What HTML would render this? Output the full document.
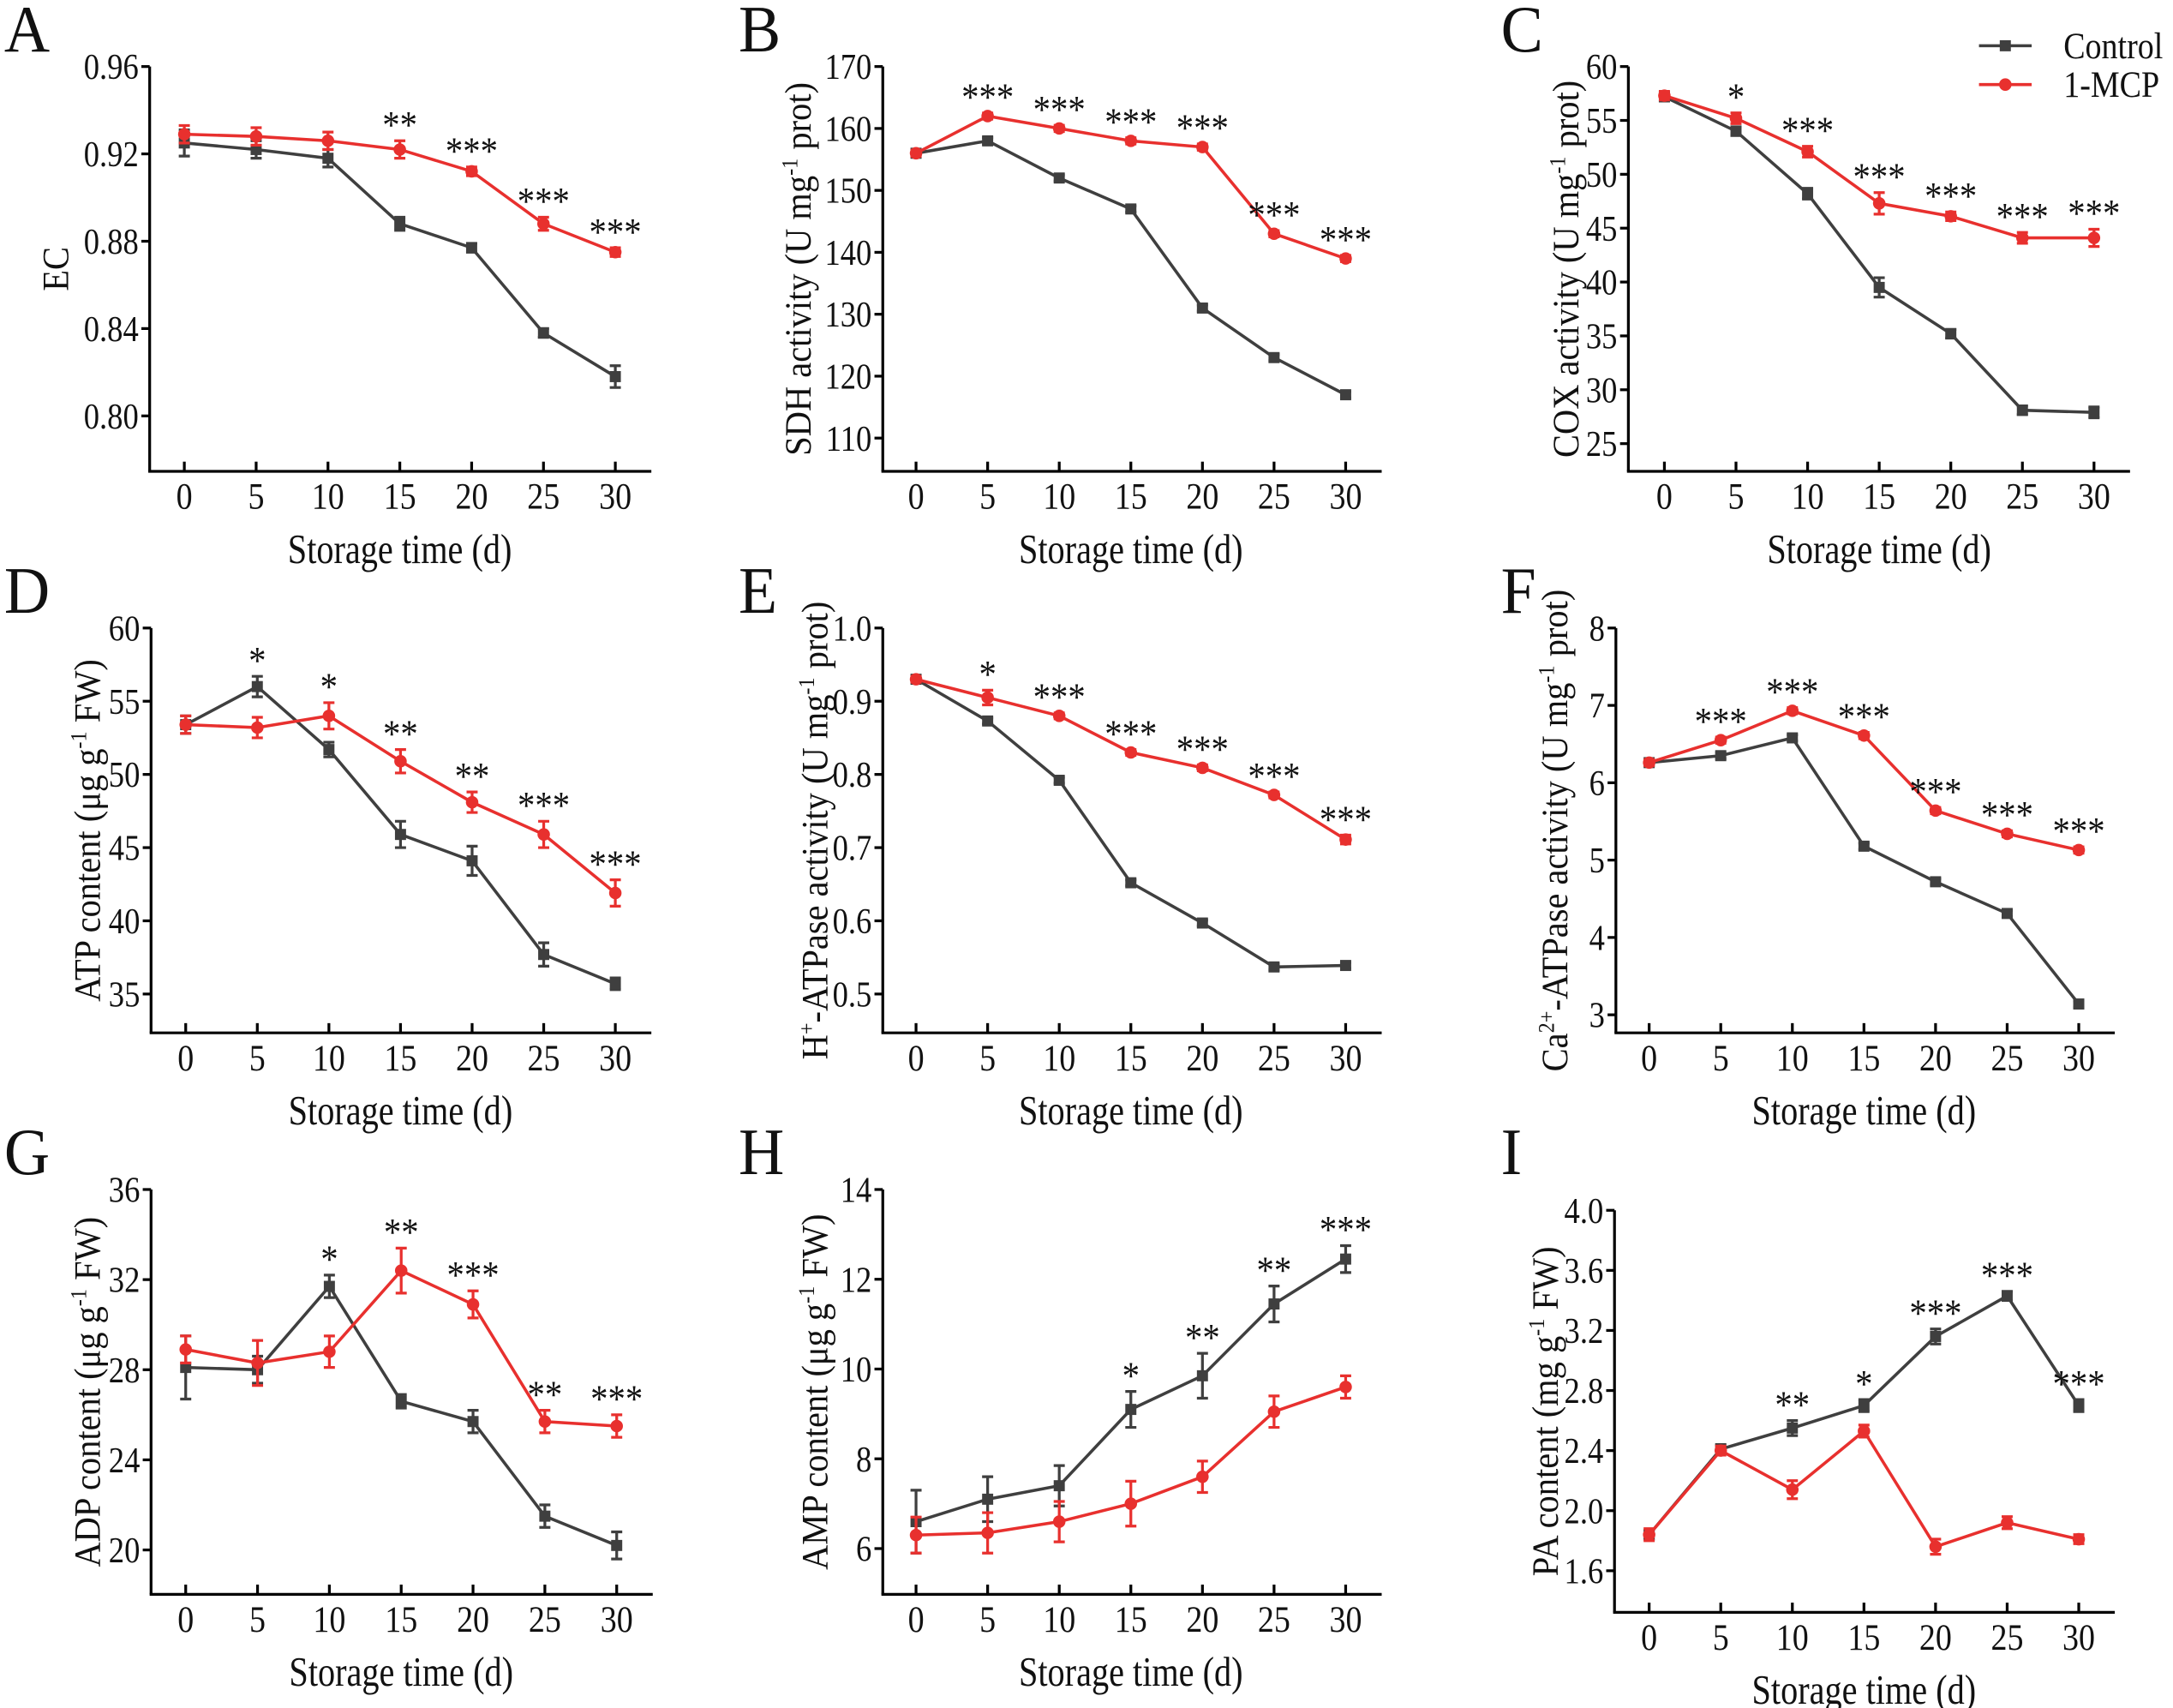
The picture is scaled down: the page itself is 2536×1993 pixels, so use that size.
<!DOCTYPE html>
<html><head><meta charset="utf-8"><style>
html,body{margin:0;padding:0;background:#fff}
svg{display:block}
text{font-family:"Liberation Serif",serif;fill:#111}
</style></head><body>
<svg id="fig" xmlns="http://www.w3.org/2000/svg" width="2536" height="1993" viewBox="0 0 1568 1232" preserveAspectRatio="none"></svg>
<script>
const days = [0,5,10,15,20,25,30];
const xTickLabels = ["0","5","10","15","20","25","30"];
const seriesNames = ["Control","1-MCP"];
// A EC
const ecCtrl=[.925,.922,.918,.888,.877,.838,.818], ecCtrlErr=[.006,.004,.004,.003,.002,.002,.005];
const ecMcp=[.929,.928,.926,.922,.912,.888,.875], ecMcpErr=[.004,.004,.004,.004,.002,.003,.002];
const ecStars=["","","","**","***","***","***"];
const ecTicks=[0.80,0.84,0.88,0.92,0.96];
// B SDH
const sdhCtrl=[156,158,152,147,131,123,117], sdhCtrlErr=[.5,.5,.5,.5,.5,.5,.5];
const sdhMcp=[156,162,160,158,157,143,139], sdhMcpErr=[.5,.5,.5,.5,.5,.5,.5];
const sdhStars=["","***","***","***","***","***","***"];
const sdhTicks=[110,120,130,140,150,160,170];
// C COX
const coxCtrl=[57.2,54,48.2,39.5,35.2,28.1,27.9], coxCtrlErr=[.4,.4,.5,.9,.4,.4,.5];
const coxMcp=[57.3,55.2,52.1,47.3,46.1,44.1,44.1], coxMcpErr=[.4,.5,.5,1,.4,.5,.8];
const coxStars=["","*","***","***","***","***","***"];
const coxTicks=[25,30,35,40,45,50,55,60];
// D ATP
const atpCtrl=[53.4,56,51.7,45.9,44.1,37.7,35.7], atpCtrlErr=[.6,.7,.5,.9,1,.8,.4];
const atpMcp=[53.4,53.2,54,50.9,48.1,45.9,41.9], atpMcpErr=[.6,.7,.9,.8,.7,.9,.9];
const atpStars=["","*","*","**","**","***","***"];
const atpTicks=[35,40,45,50,55,60];
// E H-ATPase
const hCtrl=[.93,.873,.792,.652,.597,.537,.539], hCtrlErr=[.004,.004,.004,.004,.004,.004,.004];
const hMcp=[.93,.905,.88,.83,.809,.772,.711], hMcpErr=[.004,.01,.004,.004,.004,.004,.006];
const hStars=["","*","***","***","***","***","***"];
const hTicks=[0.5,0.6,0.7,0.8,0.9,1.0];
// F Ca-ATPase
const caCtrl=[6.26,6.35,6.58,5.18,4.72,4.31,3.14], caCtrlErr=[.04,.04,.04,.04,.04,.04,.04];
const caMcp=[6.26,6.55,6.93,6.61,5.64,5.34,5.13], caMcpErr=[.04,.04,.04,.04,.04,.04,.04];
const caStars=["","***","***","***","***","***","***"];
const caTicks=[3,4,5,6,7,8];
// G ADP
const adpCtrl=[28.1,28,31.7,26.6,25.7,21.5,20.2], adpCtrlErr=[1.4,.6,.5,.3,.5,.5,.6];
const adpMcp=[28.9,28.3,28.8,32.4,30.9,25.7,25.5], adpMcpErr=[.6,1,.7,1,.6,.5,.5];
const adpStars=["","","*","**","***","**","***"];
const adpTicks=[20,24,28,32,36];
// H AMP
const ampCtrl=[6.6,7.1,7.4,9.1,9.85,11.45,12.45], ampCtrlErr=[.7,.5,.45,.4,.5,.4,.3];
const ampMcp=[6.3,6.35,6.6,7,7.6,9.05,9.6], ampMcpErr=[.4,.45,.45,.5,.35,.35,.25];
const ampStars=["","","","*","**","**","***"];
const ampTicks=[6,8,10,12,14];
// I PA
const paCtrl=[1.84,2.41,2.55,2.7,3.16,3.43,2.7], paCtrlErr=[.03,.03,.05,.04,.05,.03,.04];
const paMcp=[1.84,2.4,2.14,2.53,1.76,1.92,1.81], paMcpErr=[.04,.03,.06,.04,.05,.04,.03];
const paStars=["","","**","*","***","***","***"];
const paTicks=[1.6,2.0,2.4,2.8,3.2,3.6,4.0];

const svg=document.getElementById('fig');
const NS="http://www.w3.org/2000/svg";
function mk(tag,attrs,parent){const e=document.createElementNS(NS,tag);for(const k in attrs)e.setAttribute(k,attrs[k]);(parent||svg).appendChild(e);return e;}
function txt(parent,x,y,size,anchor,sx,str,rot){
  const t=mk('text',{x:0,y:0,'font-size':size,'text-anchor':anchor,transform:`translate(${x} ${y}) scale(${sx} 1)`+(rot?` rotate(${rot})`:'')},parent);
  if(str!==null)t.textContent=str; return t;}

const panels=[
 {id:"a",L:"A",lx:3,ly:37,ax:108,x0:133,x30:444,xe:470,yTop:48,yBot:340,tTop:0.96,tTopY:48,tLow:0.80,tLowY:300,ticks:ecTicks,dec:2,c:ecCtrl,ce:ecCtrlErr,m:ecMcp,me:ecMcpErr,s:ecStars,title:[["EC"]],tx:49},
 {id:"b",L:"B",lx:533,ly:37,ax:637,x0:661,x30:971,xe:997,yTop:48,yBot:340,tTop:170,tTopY:48,tLow:110,tLowY:316,ticks:sdhTicks,dec:0,c:sdhCtrl,ce:sdhCtrlErr,m:sdhMcp,me:sdhMcpErr,s:sdhStars,title:[["SDH activity (U mg"],["-1","sup"],[" prot)"]],tx:585},
 {id:"c",L:"C",lx:1083,ly:37,ax:1175,x0:1201,x30:1511,xe:1537,yTop:48,yBot:340,tTop:60,tTopY:48,tLow:25,tLowY:320,ticks:coxTicks,dec:0,c:coxCtrl,ce:coxCtrlErr,m:coxMcp,me:coxMcpErr,s:coxStars,title:[["COX activity (U mg"],["-1","sup"],[" prot)"]],tx:1139},
 {id:"d",L:"D",lx:3,ly:442,ax:109,x0:134,x30:444,xe:470,yTop:453,yBot:745,tTop:60,tTopY:453,tLow:35,tLowY:717,ticks:atpTicks,dec:0,c:atpCtrl,ce:atpCtrlErr,m:atpMcp,me:atpMcpErr,s:atpStars,title:[["ATP content (μg g"],["-1","sup"],[" FW)"]],tx:72},
 {id:"e",L:"E",lx:533,ly:442,ax:637,x0:661,x30:971,xe:997,yTop:453,yBot:745,tTop:1.0,tTopY:453,tLow:0.5,tLowY:717,ticks:hTicks,dec:1,c:hCtrl,ce:hCtrlErr,m:hMcp,me:hMcpErr,s:hStars,title:[["H"],["+","sup"],["-ATPase activity (U mg"],["-1","sup"],[" prot)"]],tx:597},
 {id:"f",L:"F",lx:1083,ly:442,ax:1166,x0:1190,x30:1500,xe:1526,yTop:453,yBot:745,tTop:8,tTopY:453,tLow:3,tLowY:732,ticks:caTicks,dec:0,c:caCtrl,ce:caCtrlErr,m:caMcp,me:caMcpErr,s:caStars,title:[["Ca"],["2+","sup"],["-ATPase activity (U mg"],["-1","sup"],[" prot)"]],tx:1131},
 {id:"g",L:"G",lx:3,ly:847,ax:109,x0:134,x30:445,xe:471,yTop:858,yBot:1150,tTop:36,tTopY:858,tLow:20,tLowY:1118,ticks:adpTicks,dec:0,c:adpCtrl,ce:adpCtrlErr,m:adpMcp,me:adpMcpErr,s:adpStars,title:[["ADP content (μg g"],["-1","sup"],[" FW)"]],tx:72},
 {id:"h",L:"H",lx:533,ly:847,ax:637,x0:661,x30:971,xe:997,yTop:858,yBot:1150,tTop:14,tTopY:858,tLow:6,tLowY:1117,ticks:ampTicks,dec:0,c:ampCtrl,ce:ampCtrlErr,m:ampMcp,me:ampMcpErr,s:ampStars,title:[["AMP content (μg g"],["-1","sup"],[" FW)"]],tx:597},
 {id:"i",L:"I",lx:1083,ly:847,ax:1165,x0:1190,x30:1500,xe:1526,yTop:873,yBot:1163,tTop:4.0,tTopY:873,tLow:1.6,tLowY:1133,ticks:paTicks,dec:1,c:paCtrl,ce:paCtrlErr,m:paMcp,me:paMcpErr,s:paStars,title:[["PA content (mg g"],["-1","sup"],[" FW)"]],tx:1124}
];
const CTRL="#3f3f3f", MCP="#e8302e";
panels.forEach(p=>{
 const g=mk('g',{});
 
 
 const X=d=>p.x0+(d-days[0])/(days[days.length-1]-days[0])*(p.x30-p.x0);
 const Y=v=>p.tLowY+(v-p.tLow)/(p.tTop-p.tLow)*(p.tTopY-p.tLowY);
 const lab=txt(g,p.lx,p.ly,48,'start',0.95,p.L);
  
 const ya=mk('line',{x1:p.ax,y1:p.yTop,x2:p.ax,y2:p.yBot,stroke:'#000','stroke-width':2},g);
  
 const xa=mk('line',{x1:p.ax-1,y1:p.yBot,x2:p.xe,y2:p.yBot,stroke:'#000','stroke-width':2},g);
  
 p.ticks.forEach(t=>{const y=Y(t);
  mk('line',{x1:p.ax-6,y1:y,x2:p.ax,y2:y,stroke:'#000','stroke-width':2},g);
  const tl=txt(g,p.ax-8,y+9,26,'end',0.87,t.toFixed(p.dec));
   });
 days.forEach((d,i)=>{const x=X(d);
  mk('line',{x1:x,y1:p.yBot-7,x2:x,y2:p.yBot,stroke:'#000','stroke-width':2},g);
  const tl=txt(g,x,p.yBot+27,27,'middle',0.87,xTickLabels[i]);
   });
 const xt=txt(g,(p.x0+p.x30)/2,p.yBot+66,30,'middle',0.83,"Storage time (d)");
  
 const cy=(p.yTop+p.yBot)/2;
 const yt=txt(g,p.tx,cy,25,'middle',1.08,null,-90);
  
 p.title.forEach(seg=>{const ts=mk('tspan',{},yt);ts.textContent=seg[0];
  if(seg[1]==='sup'){ts.setAttribute('font-size',15);ts.setAttribute('dy',-9);}
  else if(yt.childNodes.length>1){ts.setAttribute('dy',9);}});
 [[p.c,p.ce,CTRL,'control'],[p.m,p.me,MCP,'mcp']].forEach(([vals,errs,col,nm])=>{
  const pts=vals.map((v,i)=>X(days[i])+','+Y(v)).join(' ');
  const pl=mk('polyline',{points:pts,fill:'none',stroke:col,'stroke-width':2.2},g);
   
  vals.forEach((v,i)=>{const x=X(days[i]),y=Y(v),y1=Y(v+errs[i]),y2=Y(v-errs[i]);
   const eb=mk('path',{d:`M${x},${y1}V${y2}M${x-4},${y1}H${x+4}M${x-4},${y2}H${x+4}`,stroke:col,'stroke-width':2,fill:'none'},g);
    
   const mkr = nm==='control'? mk('rect',{x:x-4,y:y-4,width:8,height:8,fill:col},g) : mk('circle',{cx:x,cy:y,r:4.5,fill:col},g);
    });
 });
 p.s.forEach((s,i)=>{if(!s)return;
  const top=Math.min(Y(p.c[i]+p.ce[i]),Y(p.m[i]+p.me[i]));
  const st=txt(g,X(days[i]),top-2,28,'middle',0.9,s);
   });
});
// legend
const lg=mk('g',{});
 
[[CTRL,33,seriesNames[0],'control'],[MCP,61,seriesNames[1],'mcp']].forEach(([col,y,name,nm])=>{
 mk('line',{x1:1428,y1:y,x2:1466,y2:y,stroke:col,'stroke-width':2.2},lg);
 if(nm==='control') mk('rect',{x:1443,y:y-4,width:8,height:8,fill:col},lg); else mk('circle',{cx:1447,cy:y,r:4.5,fill:col},lg);
 const t=txt(lg,1489,y+9,27,'start',0.87,name);
  
});
</script>
</body></html>
